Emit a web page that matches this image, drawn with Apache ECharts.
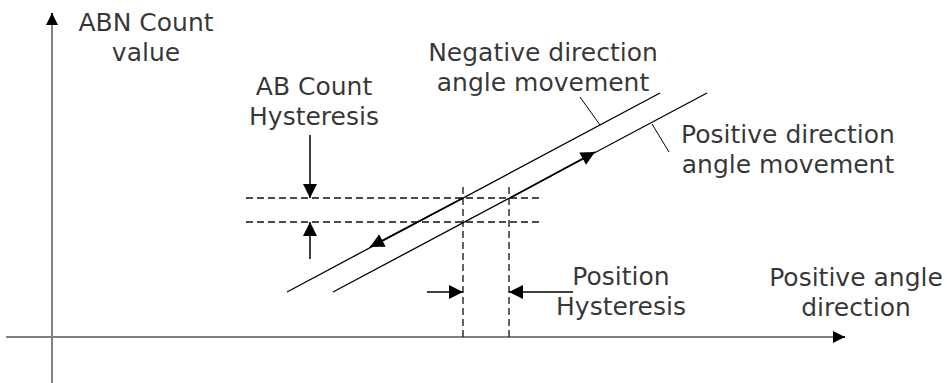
<!DOCTYPE html>
<html>
<head>
<meta charset="utf-8">
<script src="https://cdn.jsdelivr.net/npm/echarts@6/dist/echarts.min.js"></script>
<style>
html, body { margin: 0; padding: 0; background: #fff; }
#main { width: 947px; height: 383px; }
</style>
</head>
<body>
<div id="main"></div>
<script>
// diagram coordinates: origin where the two axes cross
var axisX = [[-46, 0], [793, 0]];
var axisY = [[0, -46], [0, 324]];

var negLine = [[235, 45], [608, 244]];
var posLine = [[281, 45], [655, 244]];

// dashed hysteresis box
var countLevels = [139, 115];
var countSpan = [194, 491];
var angleLevels = [411, 457];
var angleSpan = [0, 154];

// leader lines from labels to the two curves
var negLeader = [[528, 240], [548, 212]];
var posLeader = [[600, 213], [617, 185]];

// arrows [from, to]
var arrows = [
    [[411, 139], [318, 90]],   // negative movement
    [[458, 139], [543, 185]],  // positive movement
    [[258, 202], [258, 139]],  // AB count hysteresis (down)
    [[258, 78], [258, 115]],   // AB count hysteresis (up)
    [[375, 45], [411, 45]],    // position hysteresis (right)
    [[521, 45], [457, 45]]     // position hysteresis (left)
];
var axisHeads = [
    [[0, 314], [0, 324]],
    [[783, 0], [793, 0]]
];

var labels = [
    [94, 300, 'ABN Count\nvalue'],
    [262, 236, 'AB Count\nHysteresis'],
    [491, 270, 'Negative direction\nangle movement'],
    [736, 188, 'Positive direction\nangle movement'],
    [569, 46, 'Position\nHysteresis'],
    [804, 45, 'Positive angle\ndirection']
];

var myChart = echarts.init(document.getElementById('main'), null, {renderer: 'svg'});

function seg(points, color, width, type) {
    return {
        type: 'line',
        data: points,
        symbol: 'none',
        silent: true,
        animation: false,
        z: 2,
        lineStyle: {color: color, width: width, type: type || 'solid'}
    };
}

function arrowSeries(list, z, size) {
    return {
        type: 'line',
        data: [],
        silent: true,
        animation: false,
        z: z,
        markLine: {
            silent: true,
            animation: false,
            symbol: ['none', 'triangle'],
            symbolSize: size,
            symbolOffset: [0, [0, size / 2]],
            label: {show: false},
            lineStyle: {color: '#000', width: 1.5, type: 'solid'},
            data: list.map(function (a) {
                return [{coord: a[0]}, {coord: a[1]}];
            })
        }
    };
}

var series = [];
series.push(seg(axisX, '#808080', 2));
series.push(seg(axisY, '#808080', 2));

countLevels.forEach(function (y) {
    series.push(seg([[countSpan[0], y], [countSpan[1], y]], '#111', 1.3, [7, 4]));
});
angleLevels.forEach(function (x) {
    series.push(seg([[x, angleSpan[0]], [x, angleSpan[1]]], '#111', 1.3, [7, 4]));
});

series.push(seg(negLine, '#000', 1.3));
series.push(seg(posLine, '#000', 1.3));
series.push(seg(negLeader, '#000', 1));
series.push(seg(posLeader, '#000', 1));

series.push(arrowSeries(arrows, 5, 14));
series.push(arrowSeries(axisHeads, 6, 12));

series.push({
    type: 'scatter',
    data: labels,
    symbolSize: 1,
    silent: true,
    animation: false,
    itemStyle: {color: 'rgba(0,0,0,0)'},
    label: {
        show: true,
        position: 'inside',
        align: 'center',
        verticalAlign: 'middle',
        fontFamily: 'DejaVu Sans',
        fontSize: 25,
        lineHeight: 30,
        color: '#000',
        formatter: function (p) { return p.data[2]; }
    }
});

var option = {
    backgroundColor: '#fff',
    animation: false,
    grid: {left: 0, right: 0, top: 0, bottom: 0},
    xAxis: {type: 'value', min: -52, max: 895, show: false},
    yAxis: {type: 'value', min: -46, max: 337, show: false},
    series: series
};
myChart.setOption(option);
</script>
</body>
</html>
